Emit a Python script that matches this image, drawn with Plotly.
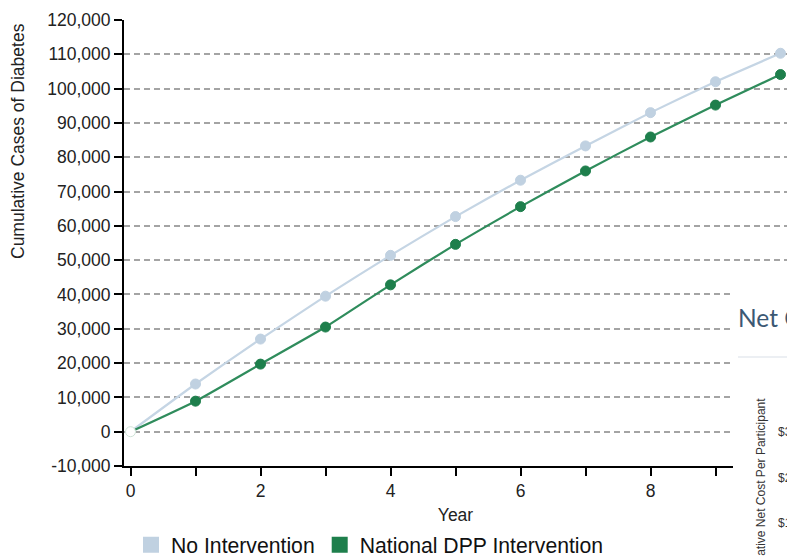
import plotly.graph_objects as go

years = [0, 1, 2, 3, 4, 5, 6, 7, 8, 9, 10]
no_intervention = [0, 13900, 27000, 39500, 51400, 62700, 73300, 83300, 93000, 102000, 110300]
dpp_intervention = [0, 8900, 19700, 30500, 42800, 54600, 65600, 76000, 85900, 95200, 104100]

y_tickvals = [-10000, 0, 10000, 20000, 30000, 40000, 50000, 60000, 70000, 80000, 90000, 100000, 110000, 120000]
y_ticktext = ["-10,000", "0", "10,000", "20,000", "30,000", "40,000", "50,000", "60,000", "70,000",
              "80,000", "90,000", "100,000", "110,000", "120,000"]
x_tickvals = [0, 2, 4, 6, 8, 10]
x_ticktext = ["0", "2", "4", "6", "8", "10"]

W, H = 787, 556
L, R, T, B = 124, 0, 20, 90
PW, PH = W - L - R, H - T - B

def px(x):
    return (x - L) / PW

def py(y):
    return (H - B - y) / PH

LIGHT_LINE = "#c5d5e4"
LIGHT_MARK = "#c0d1e1"
GREEN_LINE = "#2f8c5c"
GREEN_MARK = "#1e7f4c"
FONT = "Liberation Sans, Arial, sans-serif"

fig = go.Figure()

def marker_colors(c):
    return ["white"] + [c] * (len(years) - 1)

fig.add_trace(go.Scatter(
    x=years, y=no_intervention, mode="lines+markers", showlegend=False,
    line=dict(color=LIGHT_LINE, width=2.2, shape="spline", smoothing=0.5),
    marker=dict(size=10, color=marker_colors(LIGHT_MARK),
                line=dict(color=marker_colors(LIGHT_MARK), width=1)),
    hoverinfo="x+y"))
fig.add_trace(go.Scatter(
    x=years, y=dpp_intervention, mode="lines+markers", showlegend=False,
    line=dict(color=GREEN_LINE, width=2.2, shape="spline", smoothing=0.5),
    marker=dict(size=10, color=marker_colors(GREEN_MARK),
                line=dict(color=["#cfe3d7"] + [GREEN_MARK] * (len(years) - 1), width=1)),
    hoverinfo="x+y"))

# legend entries
fig.add_trace(go.Scatter(x=[None], y=[None], mode="markers", name="No Intervention",
                         marker=dict(symbol="square", size=16, color=LIGHT_MARK)))
fig.add_trace(go.Scatter(x=[None], y=[None], mode="markers", name="National DPP Intervention",
                         marker=dict(symbol="square", size=16, color=GREEN_MARK)))

fig.update_layout(
    width=W, height=H,
    margin=dict(l=L, r=R, t=T, b=B, autoexpand=False),
    paper_bgcolor="white", plot_bgcolor="white",
    font=dict(family=FONT, size=17.5, color="#222"),
    showlegend=True,
    legend=dict(orientation="h", x=px(131), xanchor="left", y=py(545), yanchor="middle",
                font=dict(size=21.2, color="#111"), itemwidth=30, traceorder="normal",
                bgcolor="rgba(0,0,0,0)"),
    xaxis=dict(range=[-0.1, 10.1], tickvals=x_tickvals, ticktext=x_ticktext,
               showgrid=False, zeroline=False, showline=True, linecolor="black", linewidth=2,
               ticks="outside", ticklen=8, tickwidth=2, tickcolor="black",
               minor=dict(dtick=1, tick0=0, ticks="outside", ticklen=8, tickwidth=2, tickcolor="black", showgrid=False),
               tickfont=dict(size=17.5, color="#222"),
               title=dict(text="Year", font=dict(size=17.5, color="#222"), standoff=9)),
    yaxis=dict(range=[-10000, 120000], tickvals=y_tickvals, ticktext=y_ticktext,
               showgrid=True, gridcolor="#a4a4a4", gridwidth=1.5, griddash="6px,4px",
               zeroline=False, showline=True, linecolor="black", linewidth=2,
               ticks="outside", ticklen=8, tickwidth=2, tickcolor="black",
               tickfont=dict(size=17.5, color="#222")),
)

# y-axis title (positioned near the top, as in reference)
fig.add_annotation(text="Cumulative Cases of Diabetes", xref="paper", yref="paper",
                   x=px(18), y=py(141), xanchor="center", yanchor="middle",
                   textangle=-90, showarrow=False, font=dict(size=17.5, color="#222"))

# overlapping neighbouring panel (clipped at window edge)
fig.add_shape(type="rect", xref="paper", yref="paper", x0=px(733), x1=px(800), y0=py(289), y1=py(600),
              fillcolor="white", line=dict(width=0), layer="above")
fig.add_shape(type="line", xref="paper", yref="paper", x0=px(738), x1=px(800), y0=py(357), y1=py(357),
              line=dict(color="#e6eaef", width=1.5), layer="above")
fig.add_annotation(text="Net Cost Savings", xref="paper", yref="paper", x=px(736), y=py(318),
                   xanchor="left", yanchor="middle", showarrow=False,
                   font=dict(family="Lato, Open Sans, sans-serif", size=24.5, color="#3b5874"))
fig.add_annotation(text="Cumulative Net Cost Per Participant", xref="paper", yref="paper",
                   x=px(760), y=py(396), xanchor="center", yanchor="top", textangle=-90,
                   showarrow=False, font=dict(size=12, color="#333"))
for lbl, yy in [("$3,000", 432), ("$2,000", 478), ("$1,000", 523)]:
    fig.add_annotation(text=lbl, xref="paper", yref="paper", x=px(776), y=py(yy),
                       xanchor="left", yanchor="middle", showarrow=False,
                       font=dict(size=12, color="#333"))

fig.write_html("out.html", config={"displayModeBar": False},
               post_script="document.body.style.margin='0px';document.body.style.overflow='hidden';")
